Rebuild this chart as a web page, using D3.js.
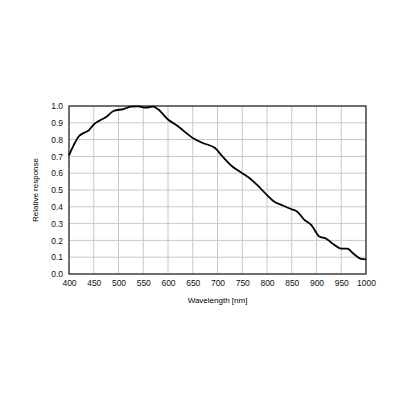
<!DOCTYPE html>
<html><head><meta charset="utf-8">
<script src="https://cdn.jsdelivr.net/npm/d3@7"></script>
<style>body{margin:0;background:#fff}</style>
</head><body>
<svg id="c" width="400" height="400"></svg>
<script>
// wavelength (nm) and relative response
const wavelengths = [400,410,420,430,440,450,460,475,490,510,525,540,555,570,580,600,620,650,670,695,710,730,750,765,780,800,815,830,850,860,875,890,905,920,935,950,962,975,990,1000];
const responses = [0.706,0.77,0.82,0.84,0.855,0.89,0.91,0.934,0.97,0.982,0.996,0.998,0.99,0.996,0.98,0.92,0.88,0.81,0.78,0.75,0.70,0.64,0.60,0.57,0.53,0.47,0.43,0.41,0.385,0.374,0.324,0.29,0.225,0.21,0.175,0.151,0.151,0.12,0.09,0.087];
const xTicks = d3.range(400,1001,50);
const yTicks = d3.range(0,11).map(i=>i/10);

const svg = d3.select('#c');
const m = {left:69,right:34,top:106,bottom:126};
const w = 400-m.left-m.right, h = 400-m.top-m.bottom;
const g = svg.append('g').attr('transform',`translate(${m.left},${m.top})`);

const x = d3.scaleLinear([400,1000],[0,w]);
const y = d3.scaleLinear([0,1],[h,0]);

// grid
g.selectAll('.gx').data(xTicks).enter().append('line')
 .attr('x1',d=>x(d)).attr('x2',d=>x(d)).attr('y1',0).attr('y2',h)
 .style('stroke','#c8c8c8').style('stroke-width',1);
g.selectAll('.gy').data(yTicks).enter().append('line')
 .attr('y1',d=>y(d)).attr('y2',d=>y(d)).attr('x1',0).attr('x2',w)
 .style('stroke','#c8c8c8').style('stroke-width',1);
g.append('rect').attr('width',w).attr('height',h)
 .style('fill','none').style('stroke','#222').style('stroke-width',1.2);

// axes
const xAxis = d3.axisBottom(x).tickValues(xTicks).tickFormat(d3.format('d')).tickSize(0).tickPadding(6);
g.append('g').attr('transform',`translate(0,${h})`).call(xAxis)
 .call(a=>a.select('.domain').remove())
 .selectAll('text').style('font-family','Arial, Liberation Sans').style('font-size','8.5px').style('fill','#111');
const yAxis = d3.axisLeft(y).tickValues(yTicks).tickFormat(d3.format('.1f')).tickSize(0).tickPadding(6);
g.append('g').call(yAxis)
 .call(a=>a.select('.domain').remove())
 .selectAll('text').style('font-family','Arial, Liberation Sans').style('font-size','8.5px').style('fill','#111');

// curve
const line = d3.line().x((d,i)=>x(wavelengths[i])).y(d=>y(d)).curve(d3.curveMonotoneX);
g.append('path').datum(responses).attr('d',line)
 .style('fill','none').style('stroke','#000').style('stroke-width',1.8);

// titles
svg.append('text').attr('x',m.left+w/2).attr('y',303).attr('text-anchor','middle')
 .style('font-family','Arial, Liberation Sans').style('font-size','8px').text('Wavelength [nm]');
svg.append('text').attr('transform',`translate(38,${m.top+h/2}) rotate(-90)`).attr('text-anchor','middle')
 .style('font-family','Arial, Liberation Sans').style('font-size','8px').text('Relative response');
</script>
</body></html>
